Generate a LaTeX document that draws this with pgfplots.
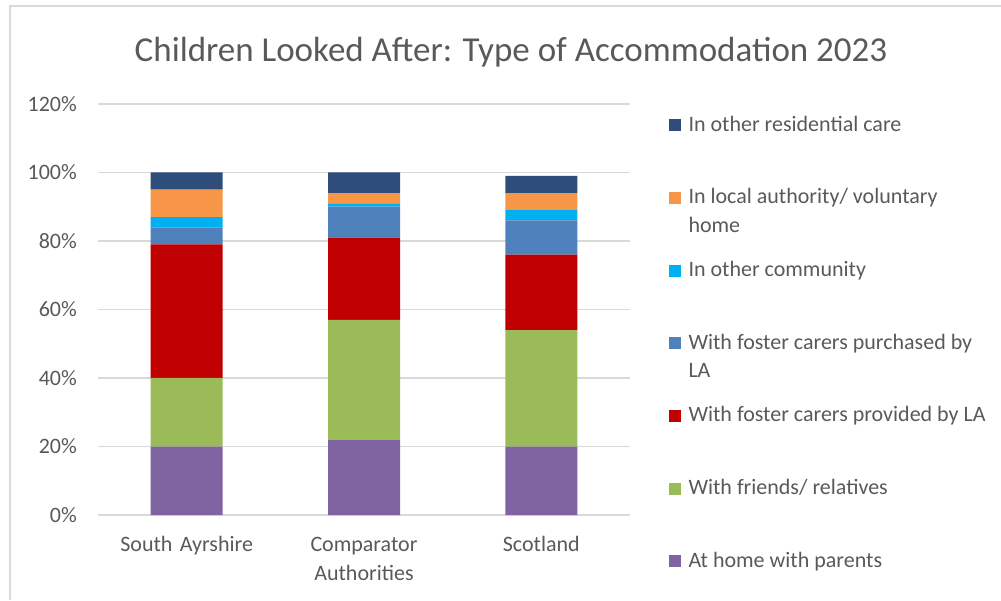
\documentclass[border=0pt]{standalone}
\usepackage{pgfplots}
\pgfplotsset{compat=1.18}
\usepackage{fontspec}
\setmainfont{Carlito}
\definecolor{txt}{HTML}{595959}
\definecolor{gridc}{HTML}{D9D9D9}
\definecolor{cpurple}{HTML}{8064A2}
\definecolor{cgreen}{HTML}{9BBB59}
\definecolor{cred}{HTML}{C00000}
\definecolor{cblue}{HTML}{4F81BD}
\definecolor{ccyan}{HTML}{00B0F0}
\definecolor{corange}{HTML}{F79646}
\definecolor{cnavy}{HTML}{2E4D7B}
\pgfplotsset{sq/.style={legend image code/.code={\fill[##1] (0pt,0pt) rectangle (12pt,12pt);}}}
\newcommand{\ls}{\rule{0pt}{67.17pt}}
\pgfplotstableread{
x home friends provided purchased community lahome residential
0 20 20 39 5 3 8 5
1 22 35 24 9 1 3 6
2 20 34 22 10 3 5 5
}\datatable
\begin{document}
\begin{tikzpicture}
\path[use as bounding box] (0,0) rectangle (1001pt,600pt);
\draw[gridc, line width=2pt] (10pt,0pt) -- (10pt,594pt) -- (1001pt,594pt);
\node[anchor=base, font=\fontsize{35}{42}\selectfont, text=txt, inner sep=0pt] at (511pt,538pt) {Children Looked After: Type of Accommodation 2023};
\begin{axis}[
 at={(98pt,85pt)}, anchor=south west,
 scale only axis, width=532pt, height=411pt,
 ybar stacked, bar width=72pt,
 xmin=-0.5, xmax=2.5, ymin=0, ymax=120,
 xtick={0,1,2}, xticklabels={South Ayrshire,{Comparator\\Authorities},Scotland},
 ytick={0,20,...,120}, yticklabels={0\%,20\%,40\%,60\%,80\%,100\%,120\%},
 major tick length=0pt,
 axis line style={draw=none},
 ymajorgrids, grid style={draw=gridc, line width=1.5pt},
 tick label style={font=\fontsize{22}{29}\selectfont, text=txt, inner sep=0pt},
 yticklabel style={anchor=east, xshift=-21pt},
 xticklabel style={anchor=north, align=center, text width=200pt, text height=16pt, yshift=-20pt},
 legend style={at={(1,1)}, anchor=north west, xshift=39pt, yshift=41.87pt, draw=none, fill=none, inner sep=0pt, outer sep=0pt, row sep=0pt, column sep=5.5pt, font=\fontsize{22}{28.6}\selectfont, text=txt,
   cells={anchor=base west, inner sep=0pt}},
 reverse legend,
]
\addplot[fill=cpurple, draw=none, sq] table[x=x, y=home] {\datatable};
\addplot[fill=cgreen, draw=none, sq] table[x=x, y=friends] {\datatable};
\addplot[fill=cred, draw=none, sq] table[x=x, y=provided] {\datatable};
\addplot[fill=cblue, draw=none, sq] table[x=x, y=purchased] {\datatable};
\addplot[fill=ccyan, draw=none, sq] table[x=x, y=community] {\datatable};
\addplot[fill=corange, draw=none, sq] table[x=x, y=lahome] {\datatable};
\addplot[fill=cnavy, draw=none, sq] table[x=x, y=residential] {\datatable};
\legend{\ls At home with parents, \ls With friends/ relatives, \ls With foster carers provided by LA, {\ls\begin{tabular}[t]{@{}l@{}}With foster carers purchased by\\LA\end{tabular}}, \ls In other community, {\ls\begin{tabular}[t]{@{}l@{}}In local authority/ voluntary\\home\end{tabular}}, \ls In other residential care}
\end{axis}
\end{tikzpicture}
\end{document}
